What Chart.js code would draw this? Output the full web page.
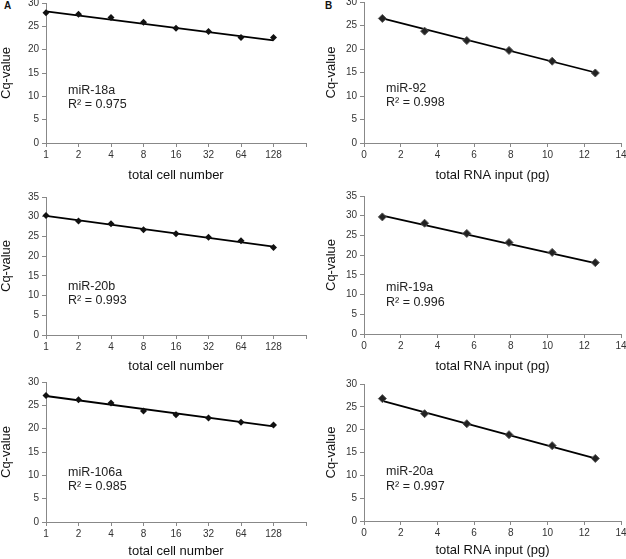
<!DOCTYPE html>
<html>
<head>
<meta charset="utf-8">
<script src="https://cdn.jsdelivr.net/npm/chart.js@4"></script>
<style>
  html, body { margin: 0; padding: 0; background: #fff; }
  body { width: 626px; height: 559px; position: relative; overflow: hidden; font-family: 'Liberation Sans', Arial, sans-serif; }
  canvas { position: absolute; }
  .tag { position: absolute; font-weight: bold; font-size: 10px; color: #111; }
</style>
</head>
<body>
<div class="tag" style="left:4px;top:0px">A</div>
<div class="tag" style="left:325px;top:0px">B</div>
<canvas id="a1"></canvas>
<canvas id="b1"></canvas>
<canvas id="a2"></canvas>
<canvas id="b2"></canvas>
<canvas id="a3"></canvas>
<canvas id="b3"></canvas>
<script>
// x values
const cellLabels = ['1', '2', '4', '8', '16', '32', '64', '128', ''];
const rnaInput = [1.0, 3.3, 5.6, 7.9, 10.25, 12.6];

// Cq values
const cqMiR18a = [27.9, 27.6, 26.9, 25.9, 24.6, 23.9, 22.6, 22.6];
const cqMiR20b = [30.3, 28.9, 28.2, 26.7, 25.7, 24.8, 23.9, 22.2];
const cqMiR106a = [27.1, 26.2, 25.5, 23.8, 23.0, 22.3, 21.4, 20.8];
const cqMiR92 = [26.5, 23.8, 21.8, 19.7, 17.4, 14.9];
const cqMiR19a = [29.7, 28.1, 25.5, 23.2, 20.7, 18.1];
const cqMiR20a = [26.8, 23.5, 21.3, 18.9, 16.5, 13.7];

// trendline ends (first x, last x)
const trend18a = [28.2, 22.0];
const trend20b = [30.2, 22.4];
const trend106a = [27.0, 20.5];
const trend92 = [26.5, 15.0];
const trend19a = [30.0, 18.0];
const trend20a = [26.3, 13.7];

const FONT = "'Liberation Sans', Arial, sans-serif";
const AXIS = '#888';

// little plugin to write the miR name and R² inside the plot
const notePlugin = {
    id: 'note',
    afterDatasetsDraw(chart, args, opts) {
        const { ctx, chartArea, scales } = chart;
        const y0 = scales.y.getPixelForValue(opts.y);
        ctx.save();
        ctx.fillStyle = '#222';
        ctx.font = '12.5px ' + FONT;
        ctx.textBaseline = 'middle';
        ctx.textAlign = 'left';
        ctx.fillText(opts.name, chartArea.left + 22, y0);
        ctx.fillText('R\u00b2 = ' + opts.r2, chartArea.left + 22, y0 + 14.5);
        ctx.restore();
    }
};

function makeChart(id, box, cfg) {
    const cv = document.getElementById(id);
    const yW = box.yW;
    const xH = box.xH;
    cv.width = yW + box.w + 10;
    cv.height = 10 + box.h + xH;
    cv.style.left = (box.left - yW) + 'px';
    cv.style.top = (box.top - 10) + 'px';

    const isCells = cfg.kind === 'cells';
    let datasets;
    if (isCells) {
        datasets = [
            {
                data: cfg.values,
                showLine: false,
                pointStyle: 'rectRot',
                pointRadius: 3.5,
                backgroundColor: '#111',
                borderColor: '#111',
                borderWidth: 0
            },
            {
                data: cellLabels.map((_, i) => i === 0 ? cfg.trend[0] : (i === cfg.values.length - 1 ? cfg.trend[1] : null)),
                spanGaps: true,
                pointRadius: 0,
                borderColor: '#000',
                borderWidth: 1.8
            }
        ];
    } else {
        datasets = [
            {
                data: rnaInput.map((x, i) => ({ x: x, y: cfg.values[i] })),
                showLine: false,
                pointStyle: 'rectRot',
                pointRadius: 4,
                backgroundColor: '#222',
                borderColor: '#555',
                borderWidth: 1
            },
            {
                data: [{ x: rnaInput[0], y: cfg.trend[0] }, { x: rnaInput[rnaInput.length - 1], y: cfg.trend[1] }],
                showLine: true,
                pointRadius: 0,
                borderColor: '#000',
                borderWidth: 1.8
            }
        ];
    }

    const xScale = isCells ? {
        type: 'category',
        labels: cellLabels,
        offset: false,
        grid: { display: true, drawOnChartArea: false, offset: false, tickLength: 4, color: AXIS },
        border: { color: AXIS, width: 1 },
        ticks: { autoSkip: false, maxRotation: 0, padding: 2, color: '#333', font: { family: FONT, size: 10 } },
        title: { display: true, text: 'total cell number', color: '#111', padding: 0, font: { family: FONT, size: 13 } },
        afterFit: s => { s.height = xH; }
    } : {
        type: 'linear',
        min: 0,
        max: 14,
        ticks: { stepSize: 2, padding: 2, color: '#333', font: { family: FONT, size: 10 } },
        grid: { display: true, drawOnChartArea: false, tickLength: 4, color: AXIS },
        border: { color: AXIS, width: 1 },
        title: { display: true, text: 'total RNA input (pg)', color: '#111', padding: 0, font: { family: FONT, size: 13 } },
        afterFit: s => { s.height = xH; }
    };

    return new Chart(cv, {
        type: isCells ? 'line' : 'scatter',
        data: isCells ? { labels: cellLabels, datasets } : { datasets },
        options: {
            responsive: false,
            animation: false,
            devicePixelRatio: 1,
            layout: { padding: { top: 10, right: 10, left: 0, bottom: 0 } },
            plugins: {
                legend: { display: false },
                tooltip: { enabled: false },
                note: { name: cfg.name, r2: cfg.r2, y: cfg.noteY }
            },
            scales: {
                x: xScale,
                y: {
                    min: 0,
                    max: cfg.yMax,
                    ticks: { stepSize: 5, padding: 3, color: '#333', font: { family: FONT, size: 10 } },
                    grid: { display: true, drawOnChartArea: false, tickLength: 4, color: AXIS },
                    border: { color: AXIS, width: 1 },
                    title: { display: true, text: 'Cq-value', color: '#111', padding: { top: box.titlePad, bottom: 0 }, font: { family: FONT, size: 13 } },
                    afterFit: s => { s.width = yW; }
                }
            }
        },
        plugins: [notePlugin]
    });
}

makeChart('a1', { left: 46, top: 2.7, w: 260, h: 140, yW: 49, xH: 40, titlePad: 2 },
    { kind: 'cells', values: cqMiR18a, trend: trend18a, yMax: 30, name: 'miR-18a', r2: '0.975', noteY: 11.3 });
makeChart('b1', { left: 364, top: 1.7, w: 257, h: 141, yW: 41, xH: 40, titlePad: 1 },
    { kind: 'rna', values: cqMiR92, trend: trend92, yMax: 30, name: 'miR-92', r2: '0.998', noteY: 11.6 });
makeChart('a2', { left: 46, top: 197.3, w: 260, h: 138.7, yW: 49, xH: 39, titlePad: 2 },
    { kind: 'cells', values: cqMiR20b, trend: trend20b, yMax: 35, name: 'miR-20b', r2: '0.993', noteY: 12.3 });
makeChart('b2', { left: 364, top: 196, w: 257, h: 138.3, yW: 41, xH: 40, titlePad: 1 },
    { kind: 'rna', values: cqMiR19a, trend: trend19a, yMax: 35, name: 'miR-19a', r2: '0.996', noteY: 11.7 });
makeChart('a3', { left: 46, top: 381.7, w: 260, h: 140, yW: 49, xH: 37, titlePad: 2 },
    { kind: 'cells', values: cqMiR106a, trend: trend106a, yMax: 30, name: 'miR-106a', r2: '0.985', noteY: 10.6 });
makeChart('b3', { left: 364, top: 384, w: 257, h: 137.7, yW: 41, xH: 37, titlePad: 1 },
    { kind: 'rna', values: cqMiR20a, trend: trend20a, yMax: 30, name: 'miR-20a', r2: '0.997', noteY: 10.8 });
</script>
</body>
</html>
